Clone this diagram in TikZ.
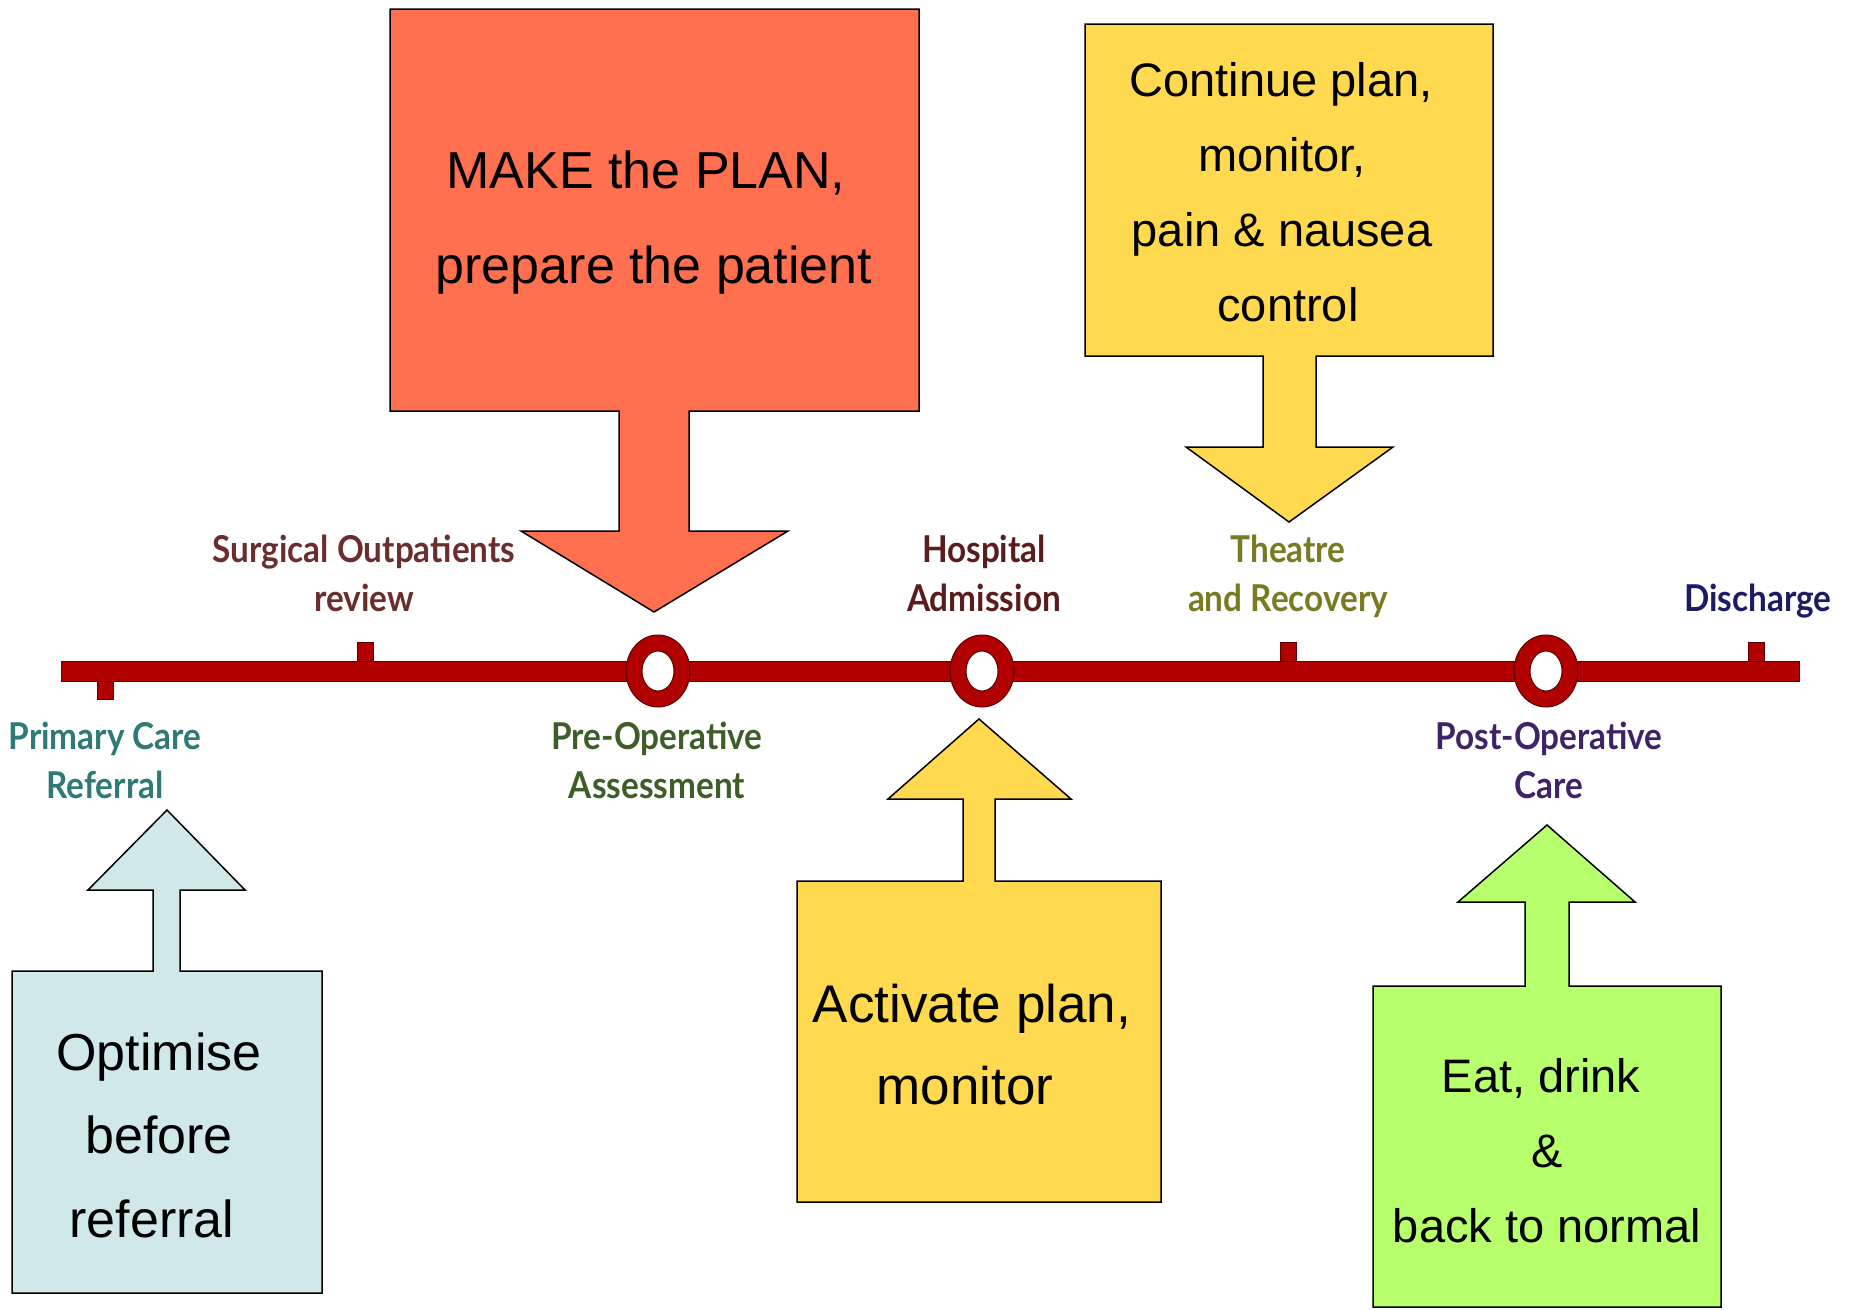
\documentclass[tikz,border=0pt]{standalone}
\usepackage{fontspec}
\setmainfont{Liberation Sans}
\newfontfamily\labfont[FakeStretch=0.9]{Lato}
\definecolor{planred}{HTML}{FF7050}
\definecolor{planyellow}{HTML}{FFD94F}
\definecolor{planblue}{HTML}{D0E8E8}
\definecolor{plangreen}{HTML}{B8FF6E}
\definecolor{railred}{HTML}{B00000}
\definecolor{raildark}{HTML}{5A0000}
\definecolor{cSurg}{HTML}{6A2E2E}
\definecolor{cPrim}{HTML}{2F7A76}
\definecolor{cPre}{HTML}{3E5E28}
\definecolor{cHosp}{HTML}{5A1C1C}
\definecolor{cTheatre}{HTML}{7A7A24}
\definecolor{cDisc}{HTML}{1C1C66}
\definecolor{cPost}{HTML}{3F2366}
\tikzset{
  callout/.style={draw=black, line width=1.5pt, line join=miter},
  rail/.style={fill=railred, draw=raildark, line width=1pt},
  txtA/.style={anchor=base, inner sep=0pt, font=\fontsize{52}{60}\selectfont},
  txtB/.style={anchor=base, inner sep=0pt, font=\fontsize{47}{56}\selectfont},
  txtC/.style={anchor=base, inner sep=0pt, font=\fontsize{53}{62}\selectfont},
  lab/.style={anchor=base, inner sep=0pt, font=\labfont\bfseries\fontsize{37}{44}\selectfont},
}
\begin{document}
\begin{tikzpicture}[x=1pt,y=-1pt]
\path[use as bounding box, fill=white] (0,0) rectangle (1854,1309);

% ---- timeline ----
\draw[rail] (357,642) rectangle (373,664);
\draw[rail] (97,678) rectangle (113,699);
\draw[rail] (1280,642) rectangle (1296,664);
\draw[rail] (1748,642) rectangle (1764,664);
\draw[rail] (61,661) rectangle (1799,681);
\foreach \n/\cx in {r1/658, r2/982, r3/1546}{
  \draw[rail] (\cx,671) ellipse [x radius=32pt, y radius=36pt];
  \draw[fill=white, draw=raildark, line width=1pt] (\cx,671) ellipse [x radius=16pt, y radius=20pt];
}

% ---- callouts ----
\draw[callout, fill=planred] (390,9) -- (919,9) -- (919,411) -- (689,411) -- (689,531) -- (788,531)
  -- (654,612) -- (521,531) -- (619,531) -- (619,411) -- (390,411) -- cycle;
\draw[callout, fill=planyellow] (1085,24) -- (1493,24) -- (1493,356) -- (1316,356) -- (1316,447) -- (1393,447)
  -- (1289,522) -- (1186,447) -- (1263,447) -- (1263,356) -- (1085,356) -- cycle;
\draw[callout, fill=planblue] (12,1293) -- (12,971) -- (153,971) -- (153,890) -- (88,890) -- (167,810)
  -- (245,890) -- (180,890) -- (180,971) -- (322,971) -- (322,1293) -- cycle;
\draw[callout, fill=planyellow] (797,1202) -- (797,881) -- (963,881) -- (963,799) -- (888,799) -- (979,719)
  -- (1071,799) -- (995,799) -- (995,881) -- (1161,881) -- (1161,1202) -- cycle;
\draw[callout, fill=plangreen] (1373,1307) -- (1373,986) -- (1525,986) -- (1525,902) -- (1458,902) -- (1547,825)
  -- (1635,902) -- (1569,902) -- (1569,986) -- (1721,986) -- (1721,1307) -- cycle;

% ---- callout texts ----
\node[txtA] (mk1) at (646,188) {MAKE the PLAN,};
\node[txtA] (mk2) at (654,283) {prepare the patient};
\node[txtB] (ct1) at (1281,96) {Continue plan,};
\node[txtB] (ct2) at (1282,171) {monitor,};
\node[txtB] (ct3) at (1282,246) {pain \& nausea};
\node[txtB] (ct4) at (1288,321) {control};
\node[txtA] (op1) at (159,1070) {Optimise};
\node[txtA] (op2) at (159,1153) {before};
\node[txtA] (op3) at (152,1237) {referral};
\node[txtC] (ac1) at (972,1022) {Activate plan,};
\node[txtC] (ac2) at (965,1104) {monitor};
\node[txtB] (ed1) at (1541,1092) {Eat, drink};
\node[txtB] (ed2) at (1547,1167) {\&};
\node[txtB] (ed3) at (1547,1242) {back to normal};

% ---- timeline labels ----
\node[lab, text=cSurg] (so1) at (364,562) {Surgical Outpatients};
\node[lab, text=cSurg] (so2) at (364,611) {review};
\node[lab, text=cPrim] (pc1) at (105,749) {Primary Care};
\node[lab, text=cPrim] (pc2) at (105,798) {Referral};
\node[lab, text=cPre] (po1) at (657,749) {Pre-Operative};
\node[lab, text=cPre] (po2) at (657,798) {Assessment};
\node[lab, text=cHosp] (ha1) at (984,562) {Hospital};
\node[lab, text=cHosp] (ha2) at (984,611) {Admission};
\node[lab, text=cTheatre] (tr1) at (1288,562) {Theatre};
\node[lab, text=cTheatre] (tr2) at (1288,611) {and Recovery};
\node[lab, text=cDisc] (dc) at (1758,611) {Discharge};
\node[lab, text=cPost] (pp1) at (1549,749) {Post-Operative};
\node[lab, text=cPost] (pp2) at (1549,798) {Care};
\end{tikzpicture}
\end{document}
